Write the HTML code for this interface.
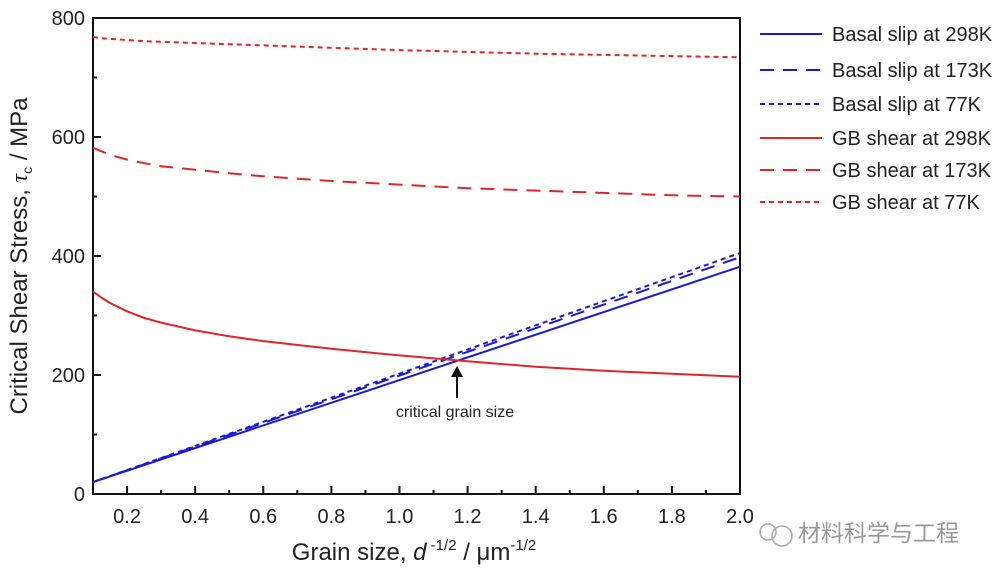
<!DOCTYPE html>
<html><head><meta charset="utf-8"><style>
body{margin:0;background:#fff;}
svg{display:block;font-family:"Liberation Sans","Noto Sans CJK SC",sans-serif;}
</style></head><body>
<svg id="chart" width="1005" height="575">
<g>
<line x1="457" y1="398" x2="457" y2="374" stroke="#111" stroke-width="2"/>
<polygon points="451,377 463,377 457,366" fill="#111"/>
<text x="455" y="417" text-anchor="middle" font-size="16" fill="#222">critical grain size</text>
</g>
<text transform="translate(27,256) rotate(-90)" text-anchor="middle" font-size="24" fill="#222">Critical Shear Stress, <tspan font-style="italic" font-family="Liberation Serif">τ</tspan><tspan font-size="14" dy="5">c</tspan><tspan dy="-5"> / MPa</tspan></text>
<text x="414" y="560" text-anchor="middle" font-size="24" fill="#222">Grain size, <tspan font-style="italic">d</tspan><tspan font-size="15" dy="-10"> -1/2</tspan><tspan dy="10"> / μm</tspan><tspan font-size="15" dy="-10">-1/2</tspan></text>
<g>
<circle cx="768" cy="532" r="8" fill="none" stroke="#aaa" stroke-width="1.5"/>
<circle cx="782" cy="536" r="10" fill="none" stroke="#aaa" stroke-width="1.5"/>
<text x="798" y="541" font-size="23" fill="#999">材料科学与工程</text>
</g>
</svg>
<script>
const xTicks=[0.2,0.4,0.6,0.8,1.0,1.2,1.4,1.6,1.8,2.0];
const yTicks=[0,200,400,600,800];
const xsBasal=[0.1,2.0];
const basal298=[20,382];
const basal173=[20,398];
const basal77=[20,405];
const xsGB=[0.1,0.125,0.15,0.2,0.25,0.3,0.4,0.5,0.6,0.8,1.0,1.2,1.4,1.6,1.8,2.0];
const gb298=[340,330,321,307,296,288,275,265,257,244,233,223,214,207,202,197];
const gb173=[582,576,570,562,556,551,545,539,534,526,520,514,510,506,502,500];
const gb77=[768,766,765,763,761,760,758,756,754,750,746,743,740,738,736,734];
const legendLabels=["Basal slip at 298K","Basal slip at 173K","Basal slip at 77K","GB shear at 298K","GB shear at 173K","GB shear at 77K"];
const NS="http://www.w3.org/2000/svg";
const X0=93,X1=740,Y0=494,Y1=18;
const sx=v=>X0+(v-0.1)/(2.0-0.1)*(X1-X0);
const sy=v=>Y0-v/800*(Y0-Y1);
const svg=document.getElementById('chart');
function mk(t,a,parent){const e=document.createElementNS(NS,t);for(const k in a)e.setAttribute(k,a[k]);(parent||svg).appendChild(e);return e;}
const fr=mk('rect',{x:X0,y:Y1,width:X1-X0,height:Y0-Y1,fill:'none',stroke:'#111','stroke-width':2});


for(let i=0;i<xTicks.length;i++){const v=xTicks[i];const x=sx(v);
 mk('line',{x1:x,x2:x,y1:Y0,y2:Y0-8,stroke:'#111','stroke-width':2});
 const mn=sx(v-0.1); mk('line',{x1:mn,x2:mn,y1:Y0,y2:Y0-4,stroke:'#111','stroke-width':2});
 const t=mk('text',{x:x,y:Y0+29,'text-anchor':'middle','font-size':20,fill:'#222'});t.textContent=v.toFixed(1);
 
 }
for(let i=0;i<yTicks.length;i++){const v=yTicks[i];const y=sy(v);
 mk('line',{x1:X0,x2:X0+8,y1:y,y2:y,stroke:'#111','stroke-width':2});
 if(v<800){const m=sy(v+100);mk('line',{x1:X0,x2:X0+4,y1:m,y2:m,stroke:'#111','stroke-width':2});}
 const t=mk('text',{x:X0-8,y:y+7,'text-anchor':'end','font-size':20,fill:'#222'});t.textContent=v;
 
 }
const blue='#1a1ad0',red='#e0262a';
const styles=[[blue,''],[blue,'14,9'],[blue,'5,4'],[red,''],[red,'14,9'],[red,'5,4']];
const series=[[xsBasal,basal298],[xsBasal,basal173],[xsBasal,basal77],[xsGB,gb298],[xsGB,gb173],[xsGB,gb77]];
const names=['basal-298k-line','basal-173k-line','basal-77k-line','gb-298k-line','gb-173k-line','gb-77k-line'];
for(let s=0;s<series.length;s++){const [xs,ys]=series[s];
 const d=xs.map((x,i)=>(i?'L':'M')+sx(x).toFixed(1)+','+sy(ys[i]).toFixed(1)).join(' ');
 const p=mk('path',{d:d,fill:'none',stroke:styles[s][0],'stroke-width':2,'stroke-dasharray':styles[s][1],'stroke-linejoin':'round'});
 
 }
const ly=[34,70,104,138,170,202];
for(let i=0;i<legendLabels.length;i++){
 const g=mk('g',{});
 
 
 mk('line',{x1:760,x2:822,y1:ly[i],y2:ly[i],stroke:styles[i][0],'stroke-width':2,'stroke-dasharray':styles[i][1]},g);
 const t=mk('text',{x:832,y:ly[i]+7,'font-size':20,fill:'#222'},g);t.textContent=legendLabels[i];}
</script>
</body></html>
